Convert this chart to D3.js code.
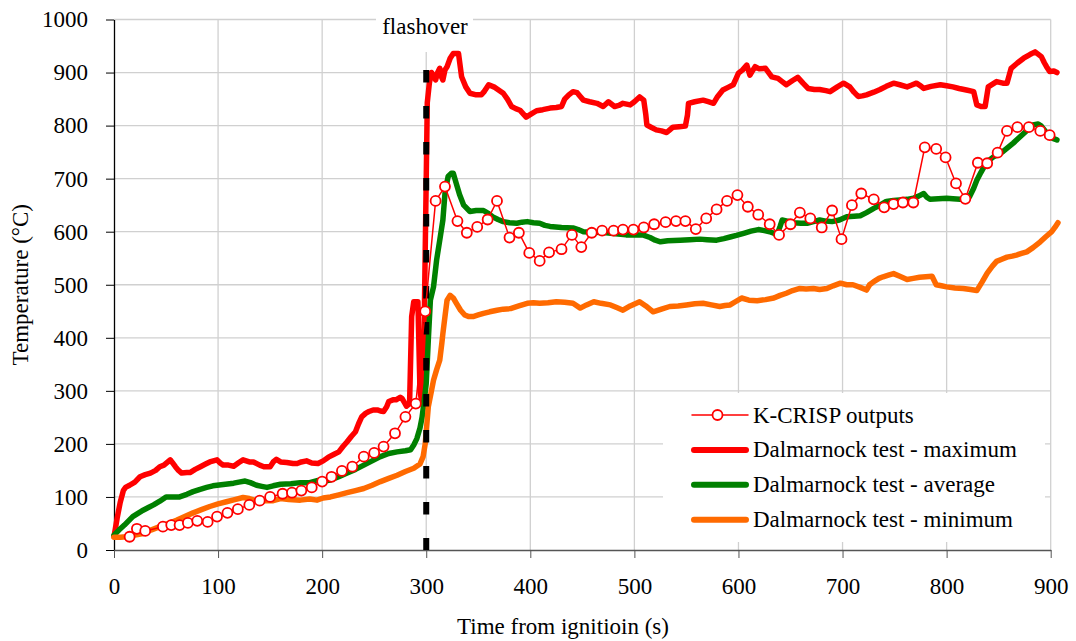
<!DOCTYPE html>
<html>
<head>
<meta charset="utf-8">
<script src="https://cdn.jsdelivr.net/npm/d3@7/dist/d3.min.js"></script>
<style>
  body { margin: 0; background: #fff; }
  text { font-family: "Liberation Serif", "Times New Roman", serif; fill: #000; }
</style>
</head>
<body>
<div id="chart"></div>
<script>
// measured temperatures, [time (s), temperature (°C)]
const testMax = [[0,25],[3,60],[6,90],[9,112],[11,118],[15,122],[20,128],[25,138],[30,142],[35,145],[40,150],[44,157],[48,160],[54,170],[56,165],[59,157],[62,150],[65,145],[70,146],[73,146],[78,152],[83,157],[88,162],[92,166],[99,170],[102,164],[105,160],[110,160],[115,158],[120,165],[124,170],[130,166],[134,166],[140,160],[144,157],[150,157],[153,166],[156,171],[160,166],[166,165],[172,163],[176,163],[180,166],[185,168],[190,164],[196,163],[201,168],[206,175],[211,180],[216,185],[220,195],[224,204],[228,214],[232,223],[235,238],[238,251],[242,258],[245,261],[249,264],[253,264],[256,262],[259,261],[262,270],[264,280],[268,283],[271,283],[275,288],[277,285],[279,278],[281,271],[284,276],[286,440],[288,468],[292,468],[294,300],[296,275],[298,420],[300,700],[301,843],[303,880],[305,900],[307,895],[309,886],[311,900],[313,908],[315,890],[316,886],[318,905],[320,911],[323,927],[326,936],[331,936],[334,892],[338,873],[342,861],[348,858],[353,858],[356,865],[360,877],[366,872],[374,861],[378,850],[382,836],[386,832],[390,829],[396,816],[401,822],[406,828],[412,830],[419,833],[425,834],[430,836],[433,850],[437,858],[441,864],[445,862],[448,855],[451,848],[457,845],[464,842],[470,836],[475,845],[481,836],[485,838],[489,842],[496,839],[500,845],[505,854],[509,848],[511,820],[512,801],[516,797],[521,792],[526,790],[531,787],[534,792],[537,797],[543,798],[549,799],[551,820],[552,842],[558,845],[566,848],[571,845],[576,842],[580,855],[585,867],[590,872],[595,877],[598,890],[600,899],[604,905],[608,914],[611,895],[614,905],[616,911],[620,907],[626,908],[632,892],[638,889],[642,883],[646,877],[652,885],[657,891],[662,880],[667,870],[673,868],[678,868],[684,866],[688,864],[695,873],[701,880],[707,873],[711,863],[715,855],[719,856],[723,858],[730,863],[736,868],[742,874],[749,880],[755,877],[762,873],[766,876],[771,880],[775,875],[778,870],[785,874],[794,877],[800,875],[806,873],[812,870],[819,867],[826,864],[829,839],[833,836],[837,836],[840,873],[848,883],[854,880],[858,880],[862,908],[868,918],[874,927],[880,934],[885,939],[891,930],[894,918],[896,911],[899,902],[903,903],[906,900]];

const testAvg = [[0,28],[5,38],[10,47],[14,55],[18,63],[23,69],[28,75],[33,80],[38,85],[44,92],[50,100],[56,100],[63,100],[70,105],[76,110],[82,114],[89,118],[95,121],[99,122],[107,124],[115,126],[120,128],[126,130],[131,127],[137,122],[142,120],[147,118],[153,121],[160,124],[170,125],[179,127],[188,127],[196,131],[202,130],[208,132],[216,138],[224,145],[232,152],[240,160],[248,168],[256,176],[264,182],[272,185],[280,187],[285,189],[288,198],[291,210],[294,230],[296,250],[298,280],[300,314],[302,396],[304,471],[307,496],[310,547],[313,584],[316,622],[318,672],[321,704],[324,710],[326,710],[329,690],[332,670],[336,650],[342,638],[348,640],[355,640],[360,634],[364,628],[369,623],[374,619],[380,617],[387,616],[392,618],[397,619],[403,617],[409,616],[414,612],[419,610],[430,608],[441,607],[446,604],[451,600],[462,599],[473,598],[482,596],[492,594],[500,594],[508,594],[515,589],[520,584],[525,581],[532,583],[544,584],[553,585],[563,586],[570,585],[579,584],[586,587],[592,590],[598,593],[605,597],[612,601],[619,604],[625,602],[630,600],[634,597],[637,594],[640,610],[642,622],[647,620],[653,617],[660,616],[666,616],[672,619],[678,622],[684,620],[690,619],[697,622],[704,628],[711,629],[717,630],[723,636],[730,644],[736,650],[742,657],[749,659],[755,660],[762,661],[768,663],[773,667],[778,672],[781,665],[784,661],[792,662],[800,663],[806,662],[813,661],[818,663],[822,666],[826,682],[829,697],[833,712],[837,726],[841,735],[845,741],[850,746],[854,751],[859,759],[864,767],[869,776],[874,785],[879,794],[883,801],[888,803],[891,799],[895,789],[898,782],[902,776],[906,773]];

const testMin = [[0,24],[6,24],[12,25],[20,28],[28,31],[36,38],[44,44],[52,50],[60,56],[68,63],[76,70],[84,76],[92,82],[100,87],[108,91],[116,95],[124,99],[130,97],[137,93],[145,93],[153,93],[160,97],[168,95],[179,94],[188,96],[195,94],[201,98],[208,100],[216,104],[224,108],[232,112],[240,116],[248,122],[256,129],[264,135],[272,141],[280,148],[288,154],[294,162],[297,176],[299,200],[302,270],[305,300],[307,320],[310,340],[313,358],[315,390],[316,408],[318,440],[320,471],[323,480],[326,475],[329,465],[333,452],[337,443],[341,440],[345,440],[350,443],[355,446],[361,449],[368,452],[374,454],[381,455],[389,460],[397,465],[403,466],[409,465],[417,466],[425,468],[433,467],[441,465],[448,456],[454,462],[461,468],[468,465],[477,462],[483,457],[489,452],[496,460],[505,468],[511,460],[518,449],[526,454],[534,459],[542,460],[550,462],[558,464],[566,465],[574,462],[582,459],[587,461],[592,462],[597,468],[603,475],[610,471],[618,470],[626,472],[634,475],[640,480],[646,484],[652,489],[659,493],[665,492],[672,493],[678,491],[685,493],[691,498],[698,503],[704,500],[710,500],[717,495],[723,490],[726,500],[730,506],[735,512],[739,515],[744,518],[749,521],[755,516],[762,510],[768,512],[774,514],[780,515],[786,516],[790,500],[795,498],[800,496],[808,494],[816,493],[823,491],[829,489],[834,505],[839,522],[844,535],[848,544],[853,548],[858,552],[863,554],[867,556],[872,559],[877,562],[883,570],[890,581],[895,590],[901,600],[904,608],[907,617]];

// model outputs
const kcrisp = [[15,25],[22,40],[30,36],[47,44],[55,47],[63,47],[71,51],[80,55],[90,53],[99,63],[109,70],[119,77],[130,85],[140,93],[150,100],[162,106],[171,108],[180,112],[190,118],[200,129],[209,138],[219,149],[229,157],[240,176],[250,183],[259,195],[270,220],[280,251],[290,276],[299,450],[309,658],[318,685],[330,620],[339,598],[349,609],[359,623],[368,658],[380,589],[389,598],[399,560],[409,545],[418,561],[430,567],[440,594],[449,571],[459,598],[469,602],[480,602],[489,604],[499,604],[509,608],[519,614],[530,618],[540,620],[549,620],[559,605],[569,625],[579,642],[589,658],[599,669],[609,647],[619,632],[630,614],[639,594],[650,614],[659,636],[669,625],[680,608],[690,640],[699,586],[709,650],[718,672],[730,661],[740,646],[749,652],[758,655],[768,655],[779,759],[790,756],[799,740],[809,691],[818,662],[830,730],[839,729],[849,749],[858,790],[868,797],[879,797],[890,790],[899,782]];

const xTicks = [0,100,200,300,400,500,600,700,800,900];
const yTicks = [0,100,200,300,400,500,600,700,800,900,1000];
const flashoverTime = 300;
const flashoverTop = 905;

const legendNames = ['K-CRISP outputs', 'Dalmarnock test - maximum', 'Dalmarnock test - average', 'Dalmarnock test - minimum'];

const width = 1076, height = 641;
const plotLeft = 114, plotRight = 1050.7, plotTop = 19.5, plotBottom = 550;

const svg = d3.select('#chart').append('svg')
  .attr('width', width)
  .attr('height', height);

svg.append('rect').attr('width', width).attr('height', height).attr('fill', '#fff');

const x = d3.scaleLinear().domain([0, 900]).range([plotLeft, plotRight]);
const y = d3.scaleLinear().domain([0, 1000]).range([plotBottom, plotTop]);

// grid
svg.append('g')
  .selectAll('line')
  .data(yTicks.filter(d => d > 0))
  .enter().append('line')
  .attr('x1', plotLeft).attr('x2', plotRight)
  .attr('y1', d => y(d)).attr('y2', d => y(d))
  .attr('stroke', '#d0d0d0').attr('stroke-width', 1.3);

svg.append('g')
  .selectAll('line')
  .data(xTicks.filter(d => d > 0))
  .enter().append('line')
  .attr('x1', d => x(d)).attr('x2', d => x(d))
  .attr('y1', plotTop).attr('y2', plotBottom)
  .attr('stroke', '#d0d0d0').attr('stroke-width', 1.3);

// white boxes behind legend and flashover label
svg.append('rect').attr('x', 663).attr('y', 393).attr('width', 382).attr('height', 149).attr('fill', '#fff');
svg.append('rect').attr('x', 376).attr('y', 4).attr('width', 97).attr('height', 48).attr('fill', '#fff');

// axes
const yAxis = svg.append('g')
  .attr('transform', `translate(${plotLeft},0)`)
  .call(d3.axisLeft(y).tickValues(yTicks).tickFormat(d3.format('d'))
    .tickSize(8).tickPadding(18).tickSizeOuter(0));
yAxis.select('.domain').attr('stroke', '#000').attr('stroke-width', 1.3);
yAxis.selectAll('.tick line').attr('stroke', '#000');

const xAxis = svg.append('g')
  .attr('transform', `translate(0,${plotBottom})`)
  .call(d3.axisBottom(x).tickValues(xTicks).tickFormat(d3.format('d'))
    .tickSize(8).tickPadding(20).tickSizeOuter(0));
xAxis.select('.domain').attr('stroke', '#555').attr('stroke-width', 1.3);
xAxis.selectAll('.tick line').attr('stroke', '#555');

svg.selectAll('.tick text')
  .attr('font-family', '"Liberation Serif", "Times New Roman", serif')
  .attr('font-size', 23)
  .attr('fill', '#000');

// axis titles
svg.append('text')
  .attr('x', 563).attr('y', 634)
  .attr('text-anchor', 'middle')
  .attr('font-size', 23)
  .text('Time from ignitioin (s)');

svg.append('text')
  .attr('transform', `translate(28,${(plotTop + plotBottom) / 2}) rotate(-90)`)
  .attr('text-anchor', 'middle')
  .attr('font-size', 23)
  .text('Temperature (°C)');

// test curves
const line = d3.line()
  .x(d => x(d[0]))
  .y(d => y(d[1]));

const curves = [
  {data: testMax, color: '#ff0000'},
  {data: testAvg, color: '#008000'},
  {data: testMin, color: '#ff6a00'}
];

curves.forEach(c => {
  svg.append('path')
    .datum(c.data)
    .attr('d', line)
    .attr('fill', 'none')
    .attr('stroke', c.color)
    .attr('stroke-width', 5.5)
    .attr('stroke-linejoin', 'round')
    .attr('stroke-linecap', 'round');
});

// flashover marker
svg.append('line')
  .attr('x1', x(flashoverTime)).attr('x2', x(flashoverTime))
  .attr('y1', y(flashoverTop)).attr('y2', y(0))
  .attr('stroke', '#000')
  .attr('stroke-width', 6)
  .attr('stroke-dasharray', '12.5,23.5');

svg.append('text')
  .attr('x', 425).attr('y', 34)
  .attr('text-anchor', 'middle')
  .attr('font-size', 23)
  .text('flashover');

// K-CRISP
svg.append('path')
  .datum(kcrisp)
  .attr('d', line)
  .attr('fill', 'none')
  .attr('stroke', '#ff0000')
  .attr('stroke-width', 1.5);

svg.append('g')
  .selectAll('circle')
  .data(kcrisp)
  .enter().append('circle')
  .attr('cx', d => x(d[0]))
  .attr('cy', d => y(d[1]))
  .attr('r', 5)
  .attr('fill', '#fff')
  .attr('stroke', '#ff0000')
  .attr('stroke-width', 1.8);

// legend
const legendStyles = [
  {color: '#ff0000', w: 1.5, marker: true},
  {color: '#ff0000', w: 6},
  {color: '#008000', w: 6},
  {color: '#ff6a00', w: 6}
];

const legend = svg.append('g');
legendNames.forEach((name, i) => {
  const ly = 415 + i * 34.9;
  const s = legendStyles[i];
  legend.append('line')
    .attr('x1', s.marker ? 692 : 694).attr('x2', s.marker ? 748 : 746)
    .attr('y1', ly).attr('y2', ly)
    .attr('stroke', s.color)
    .attr('stroke-width', s.w)
    .attr('stroke-linecap', 'round');
  if (s.marker) {
    legend.append('circle')
      .attr('cx', 717.5).attr('cy', ly).attr('r', 5)
      .attr('fill', '#fff').attr('stroke', s.color).attr('stroke-width', 1.8);
  }
  legend.append('text')
    .attr('x', 753).attr('y', ly + 7.5)
    .attr('font-size', 23)
    .text(name);
});
</script>
</body>
</html>
